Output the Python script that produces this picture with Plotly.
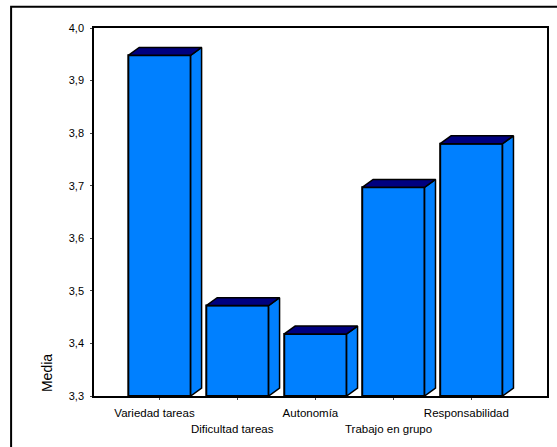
import plotly.graph_objects as go

categories = ["Variedad tareas", "Dificultad tareas", "Autonomía", "Trabajo en grupo", "Responsabilidad"]
values = [3.948, 3.472, 3.418, 3.697, 3.78]
tick_vals = [3.3, 3.4, 3.5, 3.6, 3.7, 3.8, 3.9, 4.0]
tick_text = ["3,3", "3,4", "3,5", "3,6", "3,7", "3,8", "3,9", "4,0"]
upper_labels = ["Variedad tareas", "", "Autonomía", "", "Responsabilidad"]
lower_labels = ["", "Dificultad tareas", "", "Trabajo en grupo", ""]

BASE = 3.3
W = 0.8
DX = 0.14
DY = 0.015
FRONT = "#0080ff"
TOP = "#000080"
x = list(range(len(categories)))

fig = go.Figure()
for i, v in zip(x, values):
    l, r = i - W / 2, i + W / 2
    fig.add_trace(go.Scatter(x=[r, r + DX, r + DX, r, r], y=[v, v + DY, BASE + DY, BASE, v], mode="lines", fill="toself",
                             fillcolor=FRONT, line=dict(color="black", width=1.5), hoverinfo="skip", showlegend=False))
    fig.add_trace(go.Scatter(x=[l, l + DX, r + DX, r, l], y=[v, v + DY, v + DY, v, v], mode="lines", fill="toself",
                             fillcolor=TOP, line=dict(color="black", width=1.5), hoverinfo="skip", showlegend=False))
fig.add_trace(go.Bar(x=x, y=[v - BASE for v in values], base=BASE, width=W,
                     marker=dict(color=FRONT, line=dict(color="black", width=2)),
                     showlegend=False, customdata=categories))

annotations = [dict(text="Media", xref="paper", yref="paper", x=-0.104, y=0.062, textangle=-90, showarrow=False,
                    font=dict(size=14), xanchor="center", yanchor="middle")]
for i, t in zip(x, lower_labels):
    if t:
        annotations.append(dict(text=t, x=i, xref="x", y=0, yref="paper", yshift=-33, xshift=-5, yanchor="middle",
                                showarrow=False, font=dict(size=11.5)))

fig.update_layout(
    width=557, height=447, autosize=False, paper_bgcolor="white", plot_bgcolor="white",
    margin=dict(l=94, r=8, t=28, b=51), font=dict(family="Liberation Sans", color="black", size=11),
    xaxis=dict(range=[-0.84, 4.97], tickmode="array", tickvals=x, ticktext=upper_labels, tickangle=0, ticks="outside", ticklen=2,
               ticklabelstandoff=3, ticklabelshift=-5, tickfont=dict(size=11.5),
               showline=True, linecolor="black", linewidth=1.5, mirror=True, showgrid=False, zeroline=False),
    yaxis=dict(range=[3.3, 4.0], tickmode="array", tickvals=tick_vals, ticktext=tick_text, ticks="outside", ticklen=2,
               ticklabelstandoff=4, showline=True, linecolor="black", linewidth=1.5, mirror=True, showgrid=False, zeroline=False),
    shapes=[dict(type="rect", xref="paper", yref="paper", x0=-0.183, x1=1.1, y0=-0.2, y1=1.058, line=dict(color="black", width=2))],
    annotations=annotations,
)
fig.write_html("out.html", config={"displayModeBar": False},
               post_script="document.body.style.margin='0';document.body.style.overflow='hidden';")
